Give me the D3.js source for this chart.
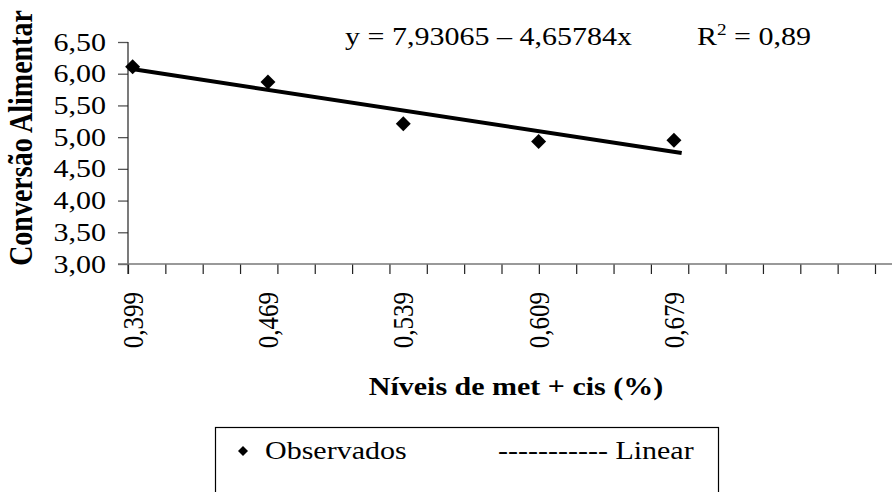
<!DOCTYPE html>
<html>
<head>
<meta charset="utf-8">
<script src="https://cdn.jsdelivr.net/npm/d3@7"></script>
<style>
  html, body { margin: 0; padding: 0; background: #fff; }
  svg { display: block; }
  text { font-family: "Liberation Serif", "Times New Roman", serif; fill: #000; }
</style>
</head>
<body>
<svg id="chart" width="892" height="492"></svg>
<script>
// Feed conversion vs. methionine + cystine level
const levels = [0.399, 0.469, 0.539, 0.609, 0.679];
const levelLabels = ["0,399", "0,469", "0,539", "0,609", "0,679"];
const observed = [6.11, 5.87, 5.21, 4.93, 4.95];
const yTickValues = [3.0, 3.5, 4.0, 4.5, 5.0, 5.5, 6.0, 6.5];
const fitIntercept = 7.93065;
const fitSlope = -4.65784;
const fitSpan = [0.397, 0.683];
const xAxisStart = 0.3966;
const xAxisStep = 0.01932;
const xAxisIntervals = 20;

const svg = d3.select("#chart");
const fmtComma = d => d3.format(".2f")(d).replace(".", ",");
const stretch = 1.2;   // horizontal widening of the lettering

const xTickValues = d3.range(xAxisIntervals + 1).map(i => xAxisStart + i * xAxisStep);
const x = d3.scaleLinear()
  .domain([xAxisStart, xAxisStart + xAxisIntervals * xAxisStep])
  .range([128, 875]);
const y = d3.scaleLinear().domain([3, 6.5]).range([264, 42]);

const axisColor = "#555";

// Y axis
const yAxis = svg.append("g")
  .attr("transform", "translate(128,0)")
  .call(d3.axisLeft(y).tickValues(yTickValues).tickSize(10).tickSizeOuter(0).tickFormat(""));
yAxis.select(".domain").remove();
yAxis.selectAll(".tick line").attr("stroke", axisColor).attr("stroke-width", 1.3);
svg.append("line")
  .attr("x1", 128).attr("x2", 128)
  .attr("y1", y(6.5)).attr("y2", y(3) + 10)
  .attr("stroke", "#222").attr("stroke-width", 1.2);

svg.append("g").selectAll("text")
  .data(yTickValues)
  .join("text")
  .attr("transform", d => `translate(106,${y(d)}) scale(${stretch},1)`)
  .attr("dy", "0.34em")
  .attr("text-anchor", "end")
  .style("font-size", "25px")
  .text(fmtComma);

// X axis
const xAxis = svg.append("g")
  .attr("transform", `translate(0,${y(3)})`)
  .call(d3.axisBottom(x).tickValues(xTickValues).tickSize(10).tickSizeOuter(0).tickFormat(""));
xAxis.select(".domain").remove();
xAxis.selectAll(".tick line").attr("stroke", "#222").attr("stroke-width", 1.2);
svg.append("line")
  .attr("x1", 118).attr("x2", 892)
  .attr("y1", y(3)).attr("y2", y(3))
  .attr("stroke", "#777").attr("stroke-width", 1.6);

svg.append("g").selectAll("text")
  .data(levels)
  .join("text")
  .attr("transform", d => `translate(${x(d)},292) scale(${stretch},1) rotate(-90)`)
  .attr("dy", "0.34em")
  .attr("text-anchor", "end")
  .style("font-size", "25px")
  .text((d, i) => levelLabels[i]);

// Regression line
const fit = v => fitIntercept + fitSlope * v;
svg.append("path")
  .datum(fitSpan)
  .attr("d", d3.line().x(v => x(v)).y(v => y(fit(v))))
  .attr("stroke", "#000")
  .attr("stroke-width", 4)
  .attr("fill", "none");

// Observed points
const diamond = d3.symbol().type(d3.symbolSquare).size(112);
svg.append("g").selectAll("path")
  .data(levels)
  .join("path")
  .attr("d", diamond)
  .attr("transform", (d, i) => `translate(${x(d)},${y(observed[i])}) rotate(45)`)
  .attr("fill", "#000");

// Axis titles
svg.append("text")
  .attr("transform", `translate(32,138) scale(${stretch},1) rotate(-90)`)
  .attr("text-anchor", "middle")
  .style("font-size", "28px")
  .style("font-weight", "bold")
  .text("Conversão Alimentar");

svg.append("text")
  .attr("transform", `translate(516,395) scale(${stretch},1)`)
  .attr("text-anchor", "middle")
  .style("font-size", "25px")
  .style("font-weight", "bold")
  .text("Níveis de met + cis (%)");

// Equation and R²
const eq = svg.append("text")
  .attr("transform", `translate(345,45) scale(${stretch},1)`)
  .style("font-size", "25px");
eq.append("tspan").text(`y = ${String(fitIntercept).replace(".", ",")} – ${String(-fitSlope).replace(".", ",")}x`);

const r2 = svg.append("text")
  .attr("transform", `translate(697,45) scale(${stretch},1)`)
  .style("font-size", "25px");
r2.append("tspan").text("R");
r2.append("tspan").attr("dy", "-10").style("font-size", "16px").text("2");
r2.append("tspan").attr("dy", "10").text(" = 0,89");

// Legend
const legend = svg.append("g");
legend.append("rect")
  .attr("x", 215.5).attr("y", 427.5)
  .attr("width", 503).attr("height", 80)
  .attr("fill", "none").attr("stroke", "#000").attr("stroke-width", 1.2);
legend.append("path")
  .attr("d", d3.symbol().type(d3.symbolSquare).size(50))
  .attr("transform", "translate(243,451) rotate(45)")
  .attr("fill", "#000");
legend.append("text")
  .attr("transform", `translate(265,459) scale(${stretch},1)`)
  .style("font-size", "25px")
  .text("Observados");
legend.append("text")
  .attr("transform", `translate(498,459) scale(${stretch},1)`)
  .style("font-size", "25px")
  .text("----------- Linear");
</script>
</body>
</html>
